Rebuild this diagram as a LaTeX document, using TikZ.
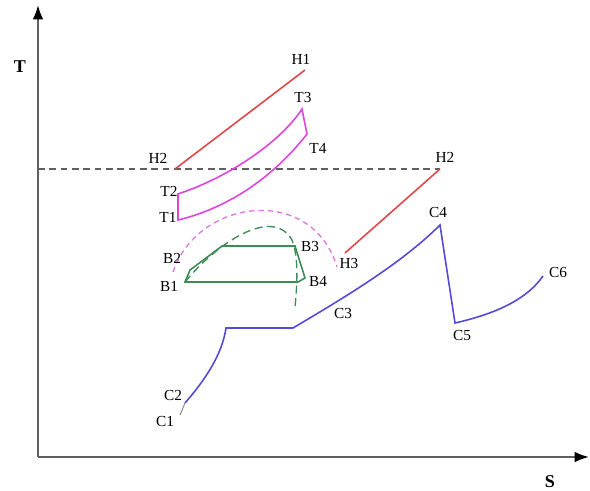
\documentclass[tikz,border=0pt]{standalone}
\usepackage{fontspec}
\setmainfont{Liberation Serif}
\usetikzlibrary{arrows.meta}
\definecolor{axisgray}{RGB}{95,95,95}
\definecolor{hotred}{RGB}{222,72,72}
\definecolor{tmagenta}{RGB}{220,70,220}
\definecolor{tpink}{RGB}{225,120,225}
\definecolor{bgreen}{RGB}{60,140,85}
\definecolor{cblue}{RGB}{85,75,215}
\tikzset{
  axis/.style={axisgray,line width=1.4pt,-{Latex[length=3.8mm,width=2.8mm,color=black]}},
  level/.style={axisgray,line width=0.9pt,dash pattern=on 5pt off 3.5pt},
  hot/.style={hotred,line width=1.2pt},
  turb/.style={tmagenta,line width=1.2pt},
  dome/.style={tpink,line width=1pt,dash pattern=on 4pt off 3pt},
  cyc/.style={bgreen,line width=1.2pt},
  sat/.style={bgreen,line width=1pt,dash pattern=on 6pt off 3.5pt},
  cold/.style={cblue,line width=1.2pt},
  lab/.style={font=\fontsize{11.5}{13}\selectfont,inner sep=0pt},
  axlab/.style={font=\fontsize{13.5}{15}\selectfont\bfseries,inner sep=0pt},
}
\begin{document}
\begin{tikzpicture}[x=0.75pt,y=-0.75pt]
  \path[use as bounding box] (0,0) rectangle (590,490);
  % axes
  \coordinate (O) at (38,457);
  \coordinate (Ttip) at (38,5);
  \coordinate (Stip) at (589,457);
  \draw[axis] (O) -- (Ttip);
  \draw[axis] (O) -- (Stip);
  \node[axlab] (Tlab) at (20,67) {T};
  \node[axlab] (Slab) at (550,482) {S};

  % hot stream
  \coordinate (H1) at (305,70);
  \coordinate (H2a) at (175,169);
  \coordinate (H2b) at (440,169);
  \coordinate (H3) at (345,253);
  \draw[level] (O |- H2b) -- (H2b);
  \draw[hot] (H2a) -- (H1);
  \draw[hot] (H2b) -- (H3);
  \node[lab] (H1lab) at (301,59) {H1};
  \node[lab] (H2alab) at (158,158) {H2};
  \node[lab] (H2blab) at (445,157) {H2};
  \node[lab] (H3lab) at (349,263) {H3};

  % turbine loop
  \coordinate (T1) at (178,220);
  \coordinate (T2) at (178,194);
  \coordinate (T3) at (302,109);
  \coordinate (T4) at (307,134);
  \draw[turb] (T1) -- (T2) .. controls (232,176) and (282,140) .. (T3)
    -- (T4) .. controls (268,184) and (220,210) .. cycle;
  \node[lab] (T1lab) at (168,217) {T1};
  \node[lab] (T2lab) at (169,191) {T2};
  \node[lab] (T3lab) at (303,97) {T3};
  \node[lab] (T4lab) at (318,148) {T4};

  % domes
  \coordinate (Pa) at (173,272);
  \coordinate (Pb) at (337,267);
  \draw[dome] (Pa) .. controls (198,198) and (312,184) .. (Pb);
  \coordinate (Ga) at (185,282);
  \coordinate (Gb) at (295,308);
  \draw[sat] (Ga) .. controls (215,245) and (272,205) .. (292,240)
    .. controls (299,258) and (297,285) .. (Gb);

  % bottoming loop
  \coordinate (B1) at (185,282);
  \coordinate (B1a) at (190,270);
  \coordinate (B2) at (222,246);
  \coordinate (B3) at (295,246);
  \coordinate (B4) at (305,278);
  \coordinate (B4a) at (298,282);
  \draw[cyc] (B1) -- (B1a) -- (B2) -- (B3) -- (B4) -- (B4a) -- cycle;
  \node[lab] (B1lab) at (169,286) {B1};
  \node[lab] (B2lab) at (172,258) {B2};
  \node[lab] (B3lab) at (310,246) {B3};
  \node[lab] (B4lab) at (318,281) {B4};

  % cold stream
  \coordinate (C1) at (180,415);
  \coordinate (C2) at (185,403);
  \coordinate (Ck1) at (226,328);
  \coordinate (Ck2) at (293,328);
  \coordinate (C4) at (440,225);
  \coordinate (C5) at (455,323);
  \coordinate (C6) at (543,276);
  \draw[axisgray!70,line width=0.8pt] (C1) -- (C2);
  \draw[cold] (C2) .. controls (205,380) and (222,355) .. (Ck1) -- (Ck2)
    .. controls (340,300) and (400,265) .. (C4) -- (C5)
    .. controls (490,315) and (525,302) .. (C6);
  \node[lab] (C1lab) at (165,421) {C1};
  \node[lab] (C2lab) at (173,395) {C2};
  \node[lab] (C3lab) at (343,313) {C3};
  \node[lab] (C4lab) at (438,212) {C4};
  \node[lab] (C5lab) at (462,335) {C5};
  \node[lab] (C6lab) at (558,272) {C6};
\end{tikzpicture}
\end{document}
